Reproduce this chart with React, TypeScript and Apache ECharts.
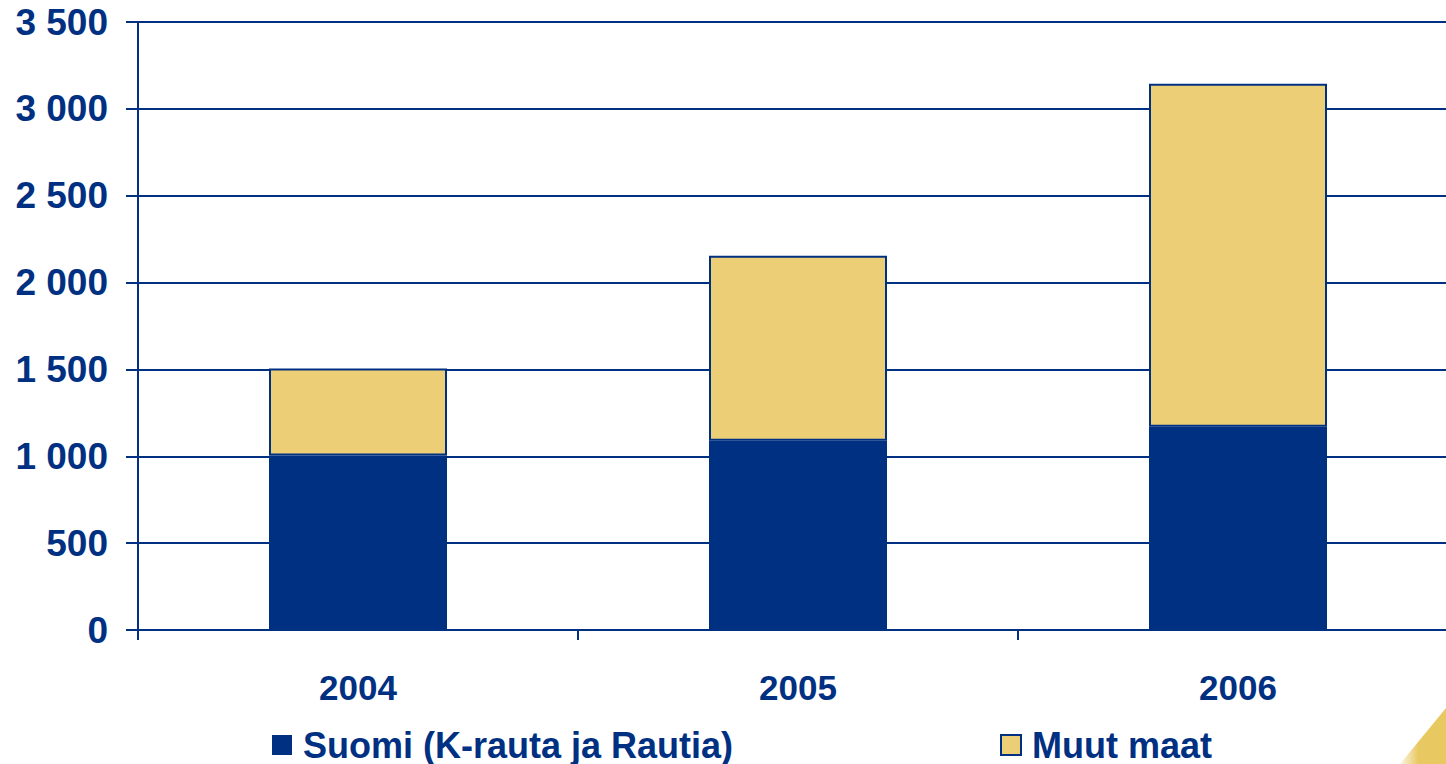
import React, { useEffect, useRef } from "react";
import * as echarts from "echarts";

const categories = ["2004", "2005", "2006"];
const suomi = [1005, 1090, 1170];
const muut = [500, 1065, 1975];
const seriesNames = ["Suomi (K-rauta ja Rautia)", "Muut maat"];

const NAVY = "#003082";
const YELLOW = "#ECCE76";
const FONT = "'Liberation Sans', Arial, sans-serif";

function fmt(v: number): string {
  const s = String(Math.round(v));
  return s.replace(/\B(?=(\d{3})+(?!\d))/g, " ");
}

export default function App() {
  const ref = useRef<HTMLDivElement>(null);
  useEffect(() => {
    if (!ref.current) return;
    const chart = echarts.init(ref.current, undefined, { renderer: "svg" });
    const legendText = {
      color: NAVY,
      fontSize: 36,
      lineHeight: 36,
      fontWeight: "bold",
      fontFamily: FONT,
      padding: [0, 0, 0, 6],
    };
    chart.setOption({
      animation: false,
      backgroundColor: "#ffffff",
      grid: { left: 138, top: 22, height: 608, width: 1320, containLabel: false, outerBoundsMode: "none" },
      legend: [
        {
          data: [seriesNames[0]],
          left: 272,
          top: 727,
          padding: 0,
          itemWidth: 20,
          itemHeight: 20,
          icon: "rect",
          textStyle: legendText,
        },
        {
          data: [seriesNames[1]],
          left: 1000,
          top: 727,
          padding: 0,
          itemWidth: 20,
          itemHeight: 20,
          icon: "rect",
          textStyle: legendText,
        },
      ],
      xAxis: {
        type: "category",
        data: categories,
        axisLine: { show: true, lineStyle: { color: NAVY, width: 2 } },
        axisTick: { show: true, length: 10, lineStyle: { color: NAVY, width: 2 } },
        axisLabel: { color: NAVY, fontSize: 35, fontWeight: "bold", fontFamily: FONT, margin: 40 },
      },
      yAxis: {
        type: "value",
        min: 0,
        max: 3500,
        interval: 500,
        axisLine: { show: true, lineStyle: { color: NAVY, width: 2 } },
        axisTick: { show: true, length: 12, lineStyle: { color: NAVY, width: 2 } },
        splitLine: { show: true, lineStyle: { color: NAVY, width: 2 } },
        axisLabel: {
          color: NAVY,
          fontSize: 37,
          fontWeight: "bold",
          fontFamily: FONT,
          margin: 30,
          formatter: (v: number) => fmt(v),
        },
      },
      series: [
        {
          name: seriesNames[0],
          type: "bar",
          stack: "total",
          data: suomi,
          barWidth: 178,
          itemStyle: { color: NAVY },
        },
        {
          name: seriesNames[1],
          type: "bar",
          stack: "total",
          data: muut,
          barWidth: 178,
          itemStyle: { color: YELLOW, borderColor: NAVY, borderWidth: 2 },
        },
      ],
      graphic: [
        {
          type: "polygon",
          shape: { points: [[1400, 764], [1446, 708], [1446, 764]] },
          style: {
            fill: new echarts.graphic.LinearGradient(0, 0, 1, 0, [
              { offset: 0, color: "rgba(236,206,118,0.2)" },
              { offset: 0.4, color: "rgba(232,200,96,1)" },
              { offset: 1, color: "rgba(232,200,96,1)" },
            ]),
          },
          z: -1,
        },
      ],
    });
    return () => chart.dispose();
  }, []);
  return <div ref={ref} style={{ width: 1446, height: 764, position: "absolute", left: 0, top: 0 }} />;
}
